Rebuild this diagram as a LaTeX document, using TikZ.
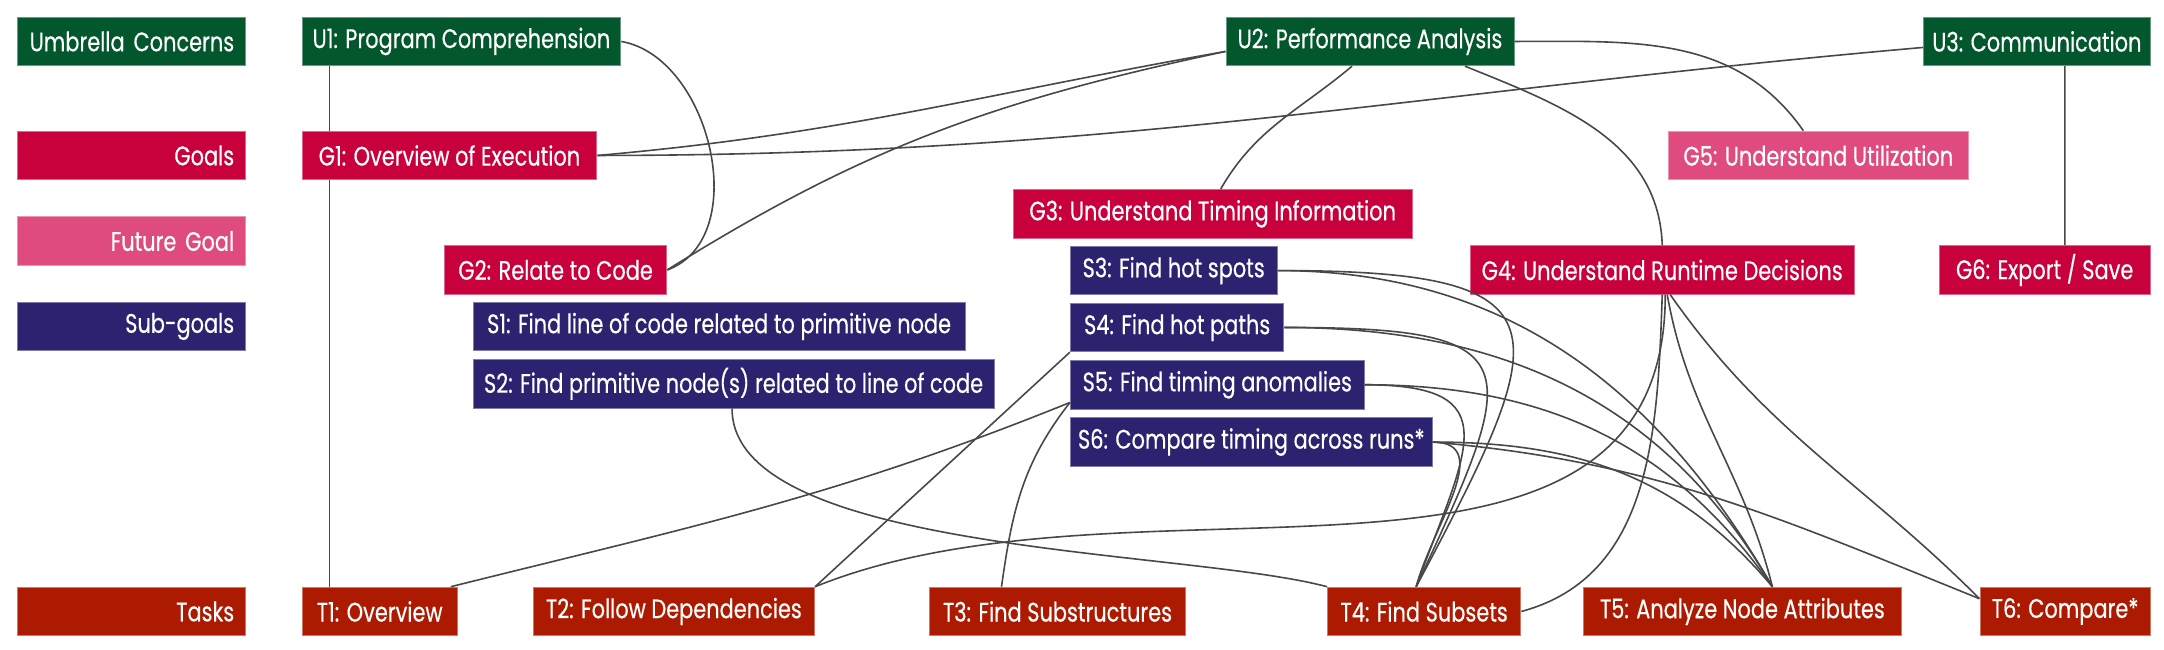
\documentclass[tikz,border=0pt]{standalone}
\usepackage{fontspec}
\setmainfont{Poppins}[FakeStretch=0.78,FakeBold=0.4]
\usetikzlibrary{calc}
\definecolor{umbgreen}{RGB}{3,87,44}
\definecolor{goalred}{RGB}{200,0,60}
\definecolor{futpink}{RGB}{224,75,127}
\definecolor{subblue}{RGB}{43,35,112}
\definecolor{taskred}{RGB}{173,26,2}
\definecolor{linkgray}{RGB}{72,72,72}
\begin{document}
\begin{tikzpicture}[x=0.5pt,y=-0.5pt,
 box/.style={anchor=north west,inner sep=0pt,minimum height=48.5*0.5pt,text=white,line width=0.5pt,font=\fontsize{13.4}{15}\selectfont},
 wd/.style={minimum width=#1*0.5pt},
 lgd/.style={inner xsep=11*0.5pt,text width=206.2*0.5pt,align=right},
 umb/.style={box,fill=umbgreen,draw=umbgreen!60!white},
 goal/.style={box,fill=goalred,draw=goalred!60!white},
 fgoal/.style={box,fill=futpink,draw=futpink!60!white},
 sgoal/.style={box,fill=subblue,draw=subblue!60!white},
 task/.style={box,fill=taskred,draw=taskred!60!white},
 link/.style={draw=linkgray,line width=0.8pt}]
 \useasboundingbox (0,0) rectangle (2164,649);
 % legend
 \node[umb,lgd] (lumb) at (16.5,16.7) {Umbrella Concerns};
 \node[goal,lgd] (lgoal) at (16.5,130.7) {Goals};
 \node[fgoal,lgd] (lfut) at (16.5,216.3) {Future Goal};
 \node[sgoal,lgd] (lsub) at (16.5,301.7) {Sub-goals};
 \node[task,lgd] (ltask) at (16.5,586.7) {Tasks};
 % umbrella concerns and goals
 \node[umb,wd=318.7] (u1) at (301.6,16.7) {U1: Program Comprehension};
 \node[umb,wd=288] (u2) at (1225.5,16.7) {U2: Performance Analysis};
 \node[umb,wd=226.8] (u3) at (1923,16.7) {U3: Communication};
 \node[goal,wd=294.8] (g1) at (301.6,130.7) {G1: Overview of Execution};
 \node[goal,wd=222.2] (g2) at (444,245.2) {G2: Relate to Code};
 \node[goal,wd=398.6] (g3) at (1012.9,189) {G3: Understand Timing Information};
 \node[goal,wd=383.9] (g4) at (1469.8,245.2) {G4: Understand Runtime Decisions};
 \node[fgoal,wd=299.3] (g5) at (1668.2,130.7) {G5: Understand Utilization};
 \node[goal,wd=211.2] (g6) at (1938.6,245.2) {G6: Export / Save};
 % sub-goals
 \node[sgoal,wd=492.2] (s1) at (472.5,301.7) {S1: Find line of code related to primitive node};
 \node[sgoal,wd=521.1] (s2) at (472.5,359) {S2: Find primitive node(s) related to line of code};
 \node[sgoal,wd=206.6] (s3) at (1069.9,245.8) {S3: Find hot spots};
 \node[sgoal,wd=213.5] (s4) at (1069.9,302.7) {S4: Find hot paths};
 \node[sgoal,wd=293.8] (s5) at (1069.9,360) {S5: Find timing anomalies};
 \node[sgoal,wd=361.8] (s6) at (1069.9,417.3) {S6: Compare timing across runs*};
 % tasks
 \node[task,wd=155.2] (t1) at (301.6,586.7) {T1: Overview};
 \node[task,wd=281.5] (t2) at (532.6,586.7) {T2: Follow Dependencies};
 \node[task,wd=255.2] (t3) at (929.4,586.7) {T3: Find Substructures};
 \node[task,wd=193.3] (t4) at (1327,586.7) {T4: Find Subsets};
 \node[task,wd=317.3] (t5) at (1583.2,586.7) {T5: Analyze Node Attributes};
 \node[task,wd=170.3] (t6) at (1979.5,586.7) {T6: Compare*};
 % links
 \draw[link] ($(u1.south west)+(28,0)$) -- ($(g1.north west)+(28,0)$);
 \draw[link] ($(g1.south west)+(28,0)$) -- ($(t1.north west)+(28,0)$);
 \draw[link] (u1.east) to[out=-10,in=20,looseness=1.0] (g2.east);
 \draw[link] ($(u2.west)+(0,10)$) to[out=192,in=32] (g2.east);
 \draw[link] ($(u2.west)+(0,10)$) to[out=190,in=5] (g1.east);
 \draw[link] ($(u3.west)+(0,6)$) to[out=185,in=0] (g1.east);
 \draw[link] ($(u2.south)+(-18,0)$) to[out=220,in=60] ($(g3.north)+(8,0)$);
 \draw[link] (u2.east) to[out=0,in=125] ($(g5.north)+(-15,0)$);
 \draw[link] ($(u2.south)+(95,0)$) to[out=-22,in=92] (g4.north);
 \draw[link] ($(u3.south)+(28,0)$) -- ($(g6.north)+(20.2,0)$);
 \draw[link] ($(s2.south)+(-1.5,0)$) to[out=-90,in=165,looseness=0.6] (t4.north west);
 \draw[link] (s4.south west) -- (t2.north east);
 \draw[link] ($(s5.south west)+(0,-7)$) to[out=202,in=14] ($(t1.north east)+(-7,0)$);
 \draw[link] ($(s5.south west)+(0,-7)$) to[out=232,in=82] ($(t3.north)+(-56,0)$);
 \draw[link] (t2.north east) to[out=22,in=-90] ($(g4.south)+(3,0)$);
 \draw[link] (t4.east) to[out=15,in=-92] (g4.south);
 \draw[link] ($(g4.south)+(5,0)$) to[out=-80,in=104] ($(t5.north)+(30,0)$);
 \draw[link] ($(g4.south)+(8,0)$) to[out=-55,in=135] ($(t6.north west)+(0,12)$);
 \draw[link] (s3.east) to[out=0,in=62,looseness=2.2] ($(t4.north)+(-8,0)$);
 \draw[link] (s4.east) to[out=0,in=65,looseness=2.2] ($(t4.north)+(-8,0)$);
 \draw[link] (s5.east) to[out=0,in=70,looseness=1.8] ($(t4.north)+(-8,0)$);
 \draw[link] (s6.east) to[out=0,in=75,looseness=1.1] ($(t4.north)+(-8,0)$);
 \draw[link] (s3.east) to[out=0,in=120] ($(t5.north)+(30,0)$);
 \draw[link] (s4.east) to[out=0,in=120] ($(t5.north)+(30,0)$);
 \draw[link] (s5.east) to[out=0,in=125] ($(t5.north)+(30,0)$);
 \draw[link] (s6.east) to[out=0,in=130] ($(t5.north)+(30,0)$);
 \draw[link] (s6.east) to[out=-5,in=158] ($(t6.north west)+(0,12)$);
\end{tikzpicture}
\end{document}
